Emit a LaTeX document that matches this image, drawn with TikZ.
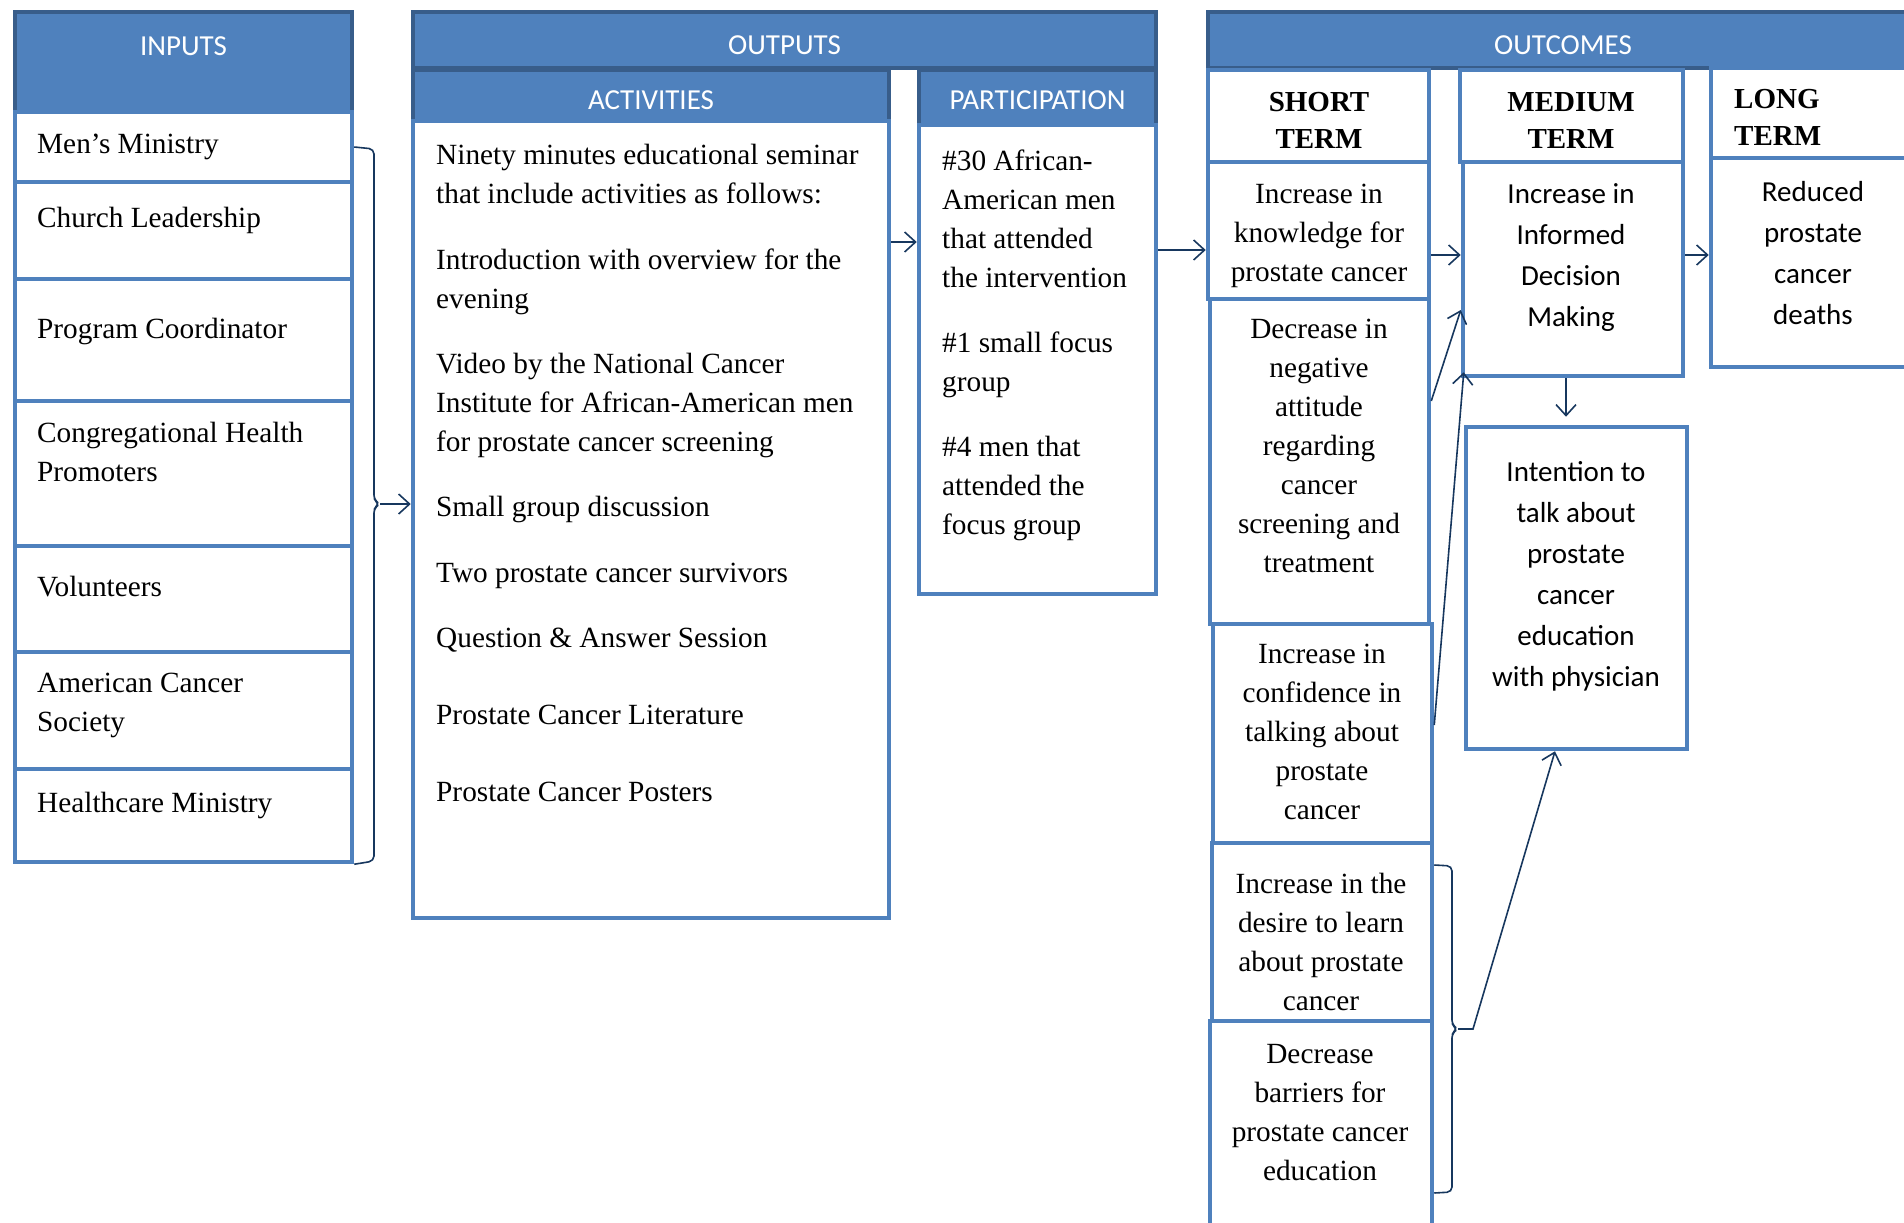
\documentclass[tikz,border=0pt]{standalone}
\usepackage{fontspec}
\setmainfont{Liberation Serif}
\newfontfamily\calibri{Carlito}
\usetikzlibrary{arrows.meta}
\definecolor{cellblue}{RGB}{79,129,189}
\definecolor{hdrline}{RGB}{56,93,138}
\definecolor{linknavy}{RGB}{23,55,94}
\tikzset{
    >={Straight Barb[length=11pt,width=20pt]},
    boxsize/.style 2 args={
        minimum width=#1,
        minimum height=#2
    },
    hdr/.style ={
        draw=hdrline,
        fill=cellblue,
        line width=4pt,
        text=white,
        inner sep=0pt,
        text height=29pt,
        text depth=0pt,
        font=\calibri\fontsize{29}{34}\selectfont
    },
    cell/.style ={
        draw=cellblue,
        line width=4.5pt,
        inner sep=0pt
    },
    itemtext/.style ={
        anchor=north west,
        inner sep=0pt,
        align=left,
        font=\fontsize{29.3}{39}\selectfont
    },
    outtext/.style ={
        anchor=north,
        inner sep=0pt,
        align=center,
        font=\fontsize{29.3}{39}\selectfont
    },
    sanstext/.style ={
        anchor=north,
        inner sep=0pt,
        align=center,
        font=\calibri\fontsize{29}{41}\selectfont
    },
    termtext/.style ={
        anchor=north,
        inner sep=0pt,
        align=center,
        font=\bfseries\fontsize{29}{37}\selectfont
    },
    link/.style ={
        draw=linknavy,
        line width=1.6pt
    }
}

\begin{document}
\begin{tikzpicture}[x=1pt,y=-1pt]
    \clip (0,0) rectangle (1904,1223);
    % headers
    \node[hdr, boxsize={337}{100}, text depth=42pt] (inputs) at (183.5,62) {INPUTS};
    \node[hdr, boxsize={743}{56}] (outputs) at (784.5,40) {OUTPUTS};
    \node[hdr, boxsize={476}{51}] (acthdr) at (651,95.5) {ACTIVITIES};
    \node[hdr, boxsize={237}{55}, text height=25pt] (parthdr) at (1037.5,97.5) {PARTICIPATION};
    \node[hdr, boxsize={710}{56}] (outcomes) at (1563,40) {OUTCOMES};
    % inputs
    \node[cell, boxsize={337}{70}] (men) at (183.5,147) {};
    \node[cell, boxsize={337}{97}] (church) at (183.5,230.5) {};
    \node[cell, boxsize={337}{122}] (coord) at (183.5,340) {};
    \node[cell, boxsize={337}{145}] (promoters) at (183.5,473.5) {};
    \node[cell, boxsize={337}{106}] (volunteers) at (183.5,599) {};
    \node[cell, boxsize={337}{117}] (acs) at (183.5,710.5) {};
    \node[cell, boxsize={337}{93}] (health) at (183.5,815.5) {};
    \node[itemtext] at (37,134) {Men's Ministry};
    \node[itemtext] at (37,207) {Church Leadership};
    \node[itemtext] at (37,318) {Program Coordinator};
    \node[itemtext] at (37,422) {Congregational Health\\Promoters};
    \node[itemtext] at (37,576) {Volunteers};
    \node[itemtext] at (37,673) {American Cancer\\Society};
    \node[itemtext] at (37,792) {Healthcare Ministry};
    % outputs
    \node[cell, boxsize={476}{797}] (activities) at (651,519.5) {};
    \node[cell, boxsize={237}{469}] (participation) at (1037.5,359.5) {};
    \node[itemtext] at (436,144) {Ninety minutes educational seminar\\that include activities as follows:\\[27pt]
        Introduction with overview for the\\evening\\[26pt]
        Video by the National Cancer\\Institute for African-American men\\for prostate cancer screening\\[26pt]
        Small group discussion\\[27pt]
        Two prostate cancer survivors\\[26pt]
        Question \& Answer Session\\[38pt]
        Prostate Cancer Literature\\[38pt]
        Prostate Cancer Posters};
    \node[itemtext] at (942,150) {\#30 African-\\American men\\that attended\\the intervention\\[26pt]
        \#1 small focus\\group\\[26pt]
        \#4 men that\\attended the\\focus group};
    % outcomes
    \node[cell, boxsize={221}{92}] (short) at (1318.5,116) {};
    \node[cell, boxsize={221}{137}] (knowledge) at (1318.5,230.5) {};
    \node[cell, boxsize={219}{325}] (attitude) at (1319.5,461.5) {};
    \node[cell, boxsize={219}{219}] (confidence) at (1322.5,733.5) {};
    \node[cell, boxsize={220}{178}] (desire) at (1322,932) {};
    \node[cell, boxsize={222}{219}] (barriers) at (1321,1130.5) {};
    \node[cell, boxsize={223}{92}] (medium) at (1571.5,116) {};
    \node[cell, boxsize={220}{214}] (informed) at (1573,269) {};
    \node[cell, boxsize={221}{322}] (intention) at (1576.5,588) {};
    \node[cell, boxsize={219}{90}] (long) at (1820.5,113) {};
    \node[cell, boxsize={219}{209}] (reduced) at (1820.5,262.5) {};
    \node[termtext] at (1319,92) {SHORT\\TERM};
    \node[termtext] at (1571,92) {MEDIUM\\TERM};
    \node[termtext, anchor=north west, align=left] at (1734,89) {LONG\\TERM};
    \node[outtext] at (1319,184) {Increase in\\knowledge for\\prostate cancer};
    \node[outtext] at (1319,319) {Decrease in\\negative\\attitude\\regarding\\cancer\\screening and\\treatment};
    \node[outtext] at (1322,644) {Increase in\\confidence in\\talking about\\prostate\\cancer};
    \node[outtext] at (1321,873) {Increase in the\\desire to learn\\about prostate\\cancer};
    \node[outtext] at (1320,1044) {Decrease\\barriers for\\prostate cancer\\education};
    \node[sanstext] at (1571,183) {Increase in\\Informed\\Decision\\Making};
    \node[sanstext] at (1813,181) {Reduced\\prostate\\cancer\\deaths};
    \node[sanstext] at (1576,461) {Intention to\\talk about\\prostate\\cancer\\education\\with physician};
    % braces
    \coordinate (intip) at (380,504);
    \draw[link, rounded corners=5pt] (men.east) -- (374,149) -- (374,500) -- (intip) -- (374,508) -- (374,861) -- (health.south east);
    \coordinate (brtip) at (1458,1029);
    \coordinate (outtip) at (1473,1029);
    \draw[link, rounded corners=5pt] (desire.east |- 0,865) -- (1452,866) -- (1452,1025) -- (brtip) -- (1452,1033) -- (1452,1192) -- (barriers.east |- 0,1193);
    % links
    \draw[link,->] (intip) -- (intip -| activities.west);
    \draw[link,->] (activities.east |- 0,242) -- (participation.west |- 0,242);
    \draw[link,->] (participation.east |- 0,250) -- (knowledge.west |- 0,250);
    \draw[link,->] (knowledge.east |- 0,255) -- (informed.west |- 0,255);
    \draw[link,->] (informed.east |- 0,255) -- (reduced.west |- 0,255);
    \draw[link,->] (attitude.east |- 0,401) -- (informed.west |- 0,310);
    \draw[link,->] (confidence.east |- 0,725) -- ([shift={(3pt,6pt)}]informed.south west);
    \draw[link,->, shorten >=8pt] (1566,0 |- informed.south) -- (1566,0 |- intention.north);
    \draw[link,->] (brtip) -- (outtip) -- (1555,0 |- intention.south);
\end{tikzpicture}
\end{document}
